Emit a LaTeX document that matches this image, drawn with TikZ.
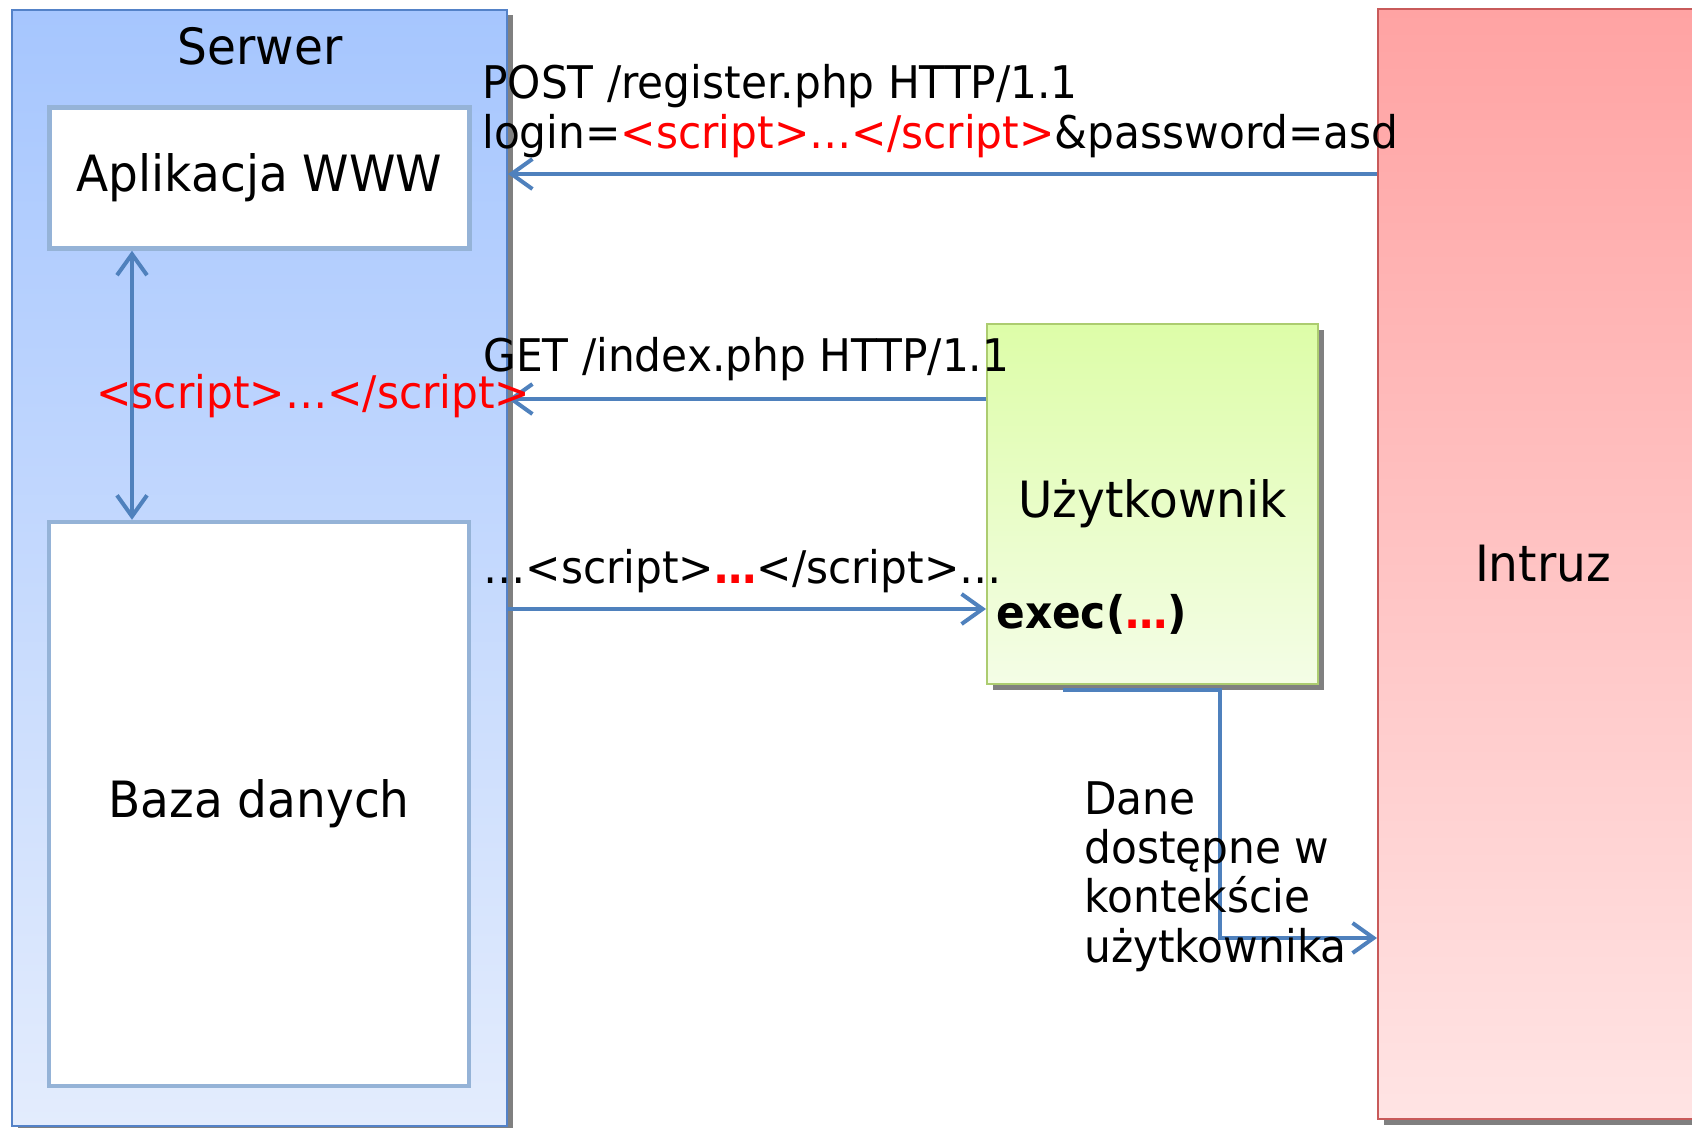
\documentclass[tikz,border=0pt]{standalone}
\usepackage{fontspec}
\setmainfont{DejaVu Sans}[FakeStretch=0.94]
\usepackage{xcolor}
\usepackage{tikz}
\usetikzlibrary{arrows.meta,shadows}

\definecolor{srvtop}{RGB}{166,198,254}
\definecolor{srvbot}{RGB}{227,236,253}
\definecolor{srvline}{RGB}{84,130,200}
\definecolor{boxline}{RGB}{149,179,215}
\definecolor{arrowblue}{RGB}{79,129,189}
\definecolor{usrtop}{RGB}{221,253,168}
\definecolor{usrbot}{RGB}{244,253,230}
\definecolor{usrline}{RGB}{172,204,112}
\definecolor{intop}{RGB}{255,163,163}
\definecolor{inbot}{RGB}{255,228,228}
\definecolor{intruzline}{RGB}{200,90,90}
\definecolor{scriptred}{RGB}{255,0,0}

\begin{document}
\begin{tikzpicture}[
    lbl/.style={font=\fontsize{28.45pt}{34pt}\selectfont, inner sep=0pt},
    msg/.style={font=\fontsize{25.6pt}{27.9pt}\selectfont, inner sep=0pt, anchor=base west, align=left},
    subbox/.style={rectangle, draw=boxline, line width=0.09cm, fill=white, minimum width=8.4cm, font=\fontsize{28.45pt}{34pt}\selectfont},
    actor/.style={rectangle, line width=0.04cm, font=\fontsize{28.45pt}{34pt}\selectfont, drop shadow={shadow xshift=0.11cm, shadow yshift=-0.11cm, opacity=1, fill=black!50}},
    flow/.style={draw=arrowblue, line width=0.08cm, ->},
    >={Straight Barb[length=0.42cm, width=0.6cm]}
]
    \useasboundingbox (0,0) rectangle (33.84,-22.54);

    % Server
    \node[actor, draw=srvline, top color=srvtop, bottom color=srvbot, minimum width=9.9cm, minimum height=22.33cm] (serwer) at (5.19,-11.356) {};
    \node[lbl, anchor=base] (serwertxt) at (5.2,-1.28) {Serwer};
    \node[subbox, minimum height=2.82cm] (app) at (5.19,-3.56) {Aplikacja WWW};
    \node[subbox, minimum height=11.28cm] (baza) at (5.18,-16.08) {Baza danych};

    % User and intruder
    \node[actor, draw=usrline, top color=usrtop, bottom color=usrbot, minimum width=6.62cm, minimum height=7.2cm] (uzyt) at (23.05,-10.08) {Użytkownik};
    \node[actor, draw=intruzline, top color=intop, bottom color=inbot, minimum width=6.6cm, minimum height=22.2cm] (intruz) at (30.86,-11.28) {Intruz};

    % Connector levels
    \coordinate (dblx) at (2.64,0);
    \coordinate (postlvl) at (0,-3.48);
    \coordinate (getlvl) at (0,-7.98);
    \coordinate (resplvl) at (0,-12.18);
    \coordinate (danestart) at (21.26,-13.8);
    \coordinate (daneturn) at (24.4,-18.76);

    % Connectors
    \draw[flow, <->] (app.south -| dblx) -- (baza.north -| dblx);
    \draw[flow] (intruz.west |- postlvl) -- (serwer.east |- postlvl);
    \draw[flow] (uzyt.west |- getlvl) -- (serwer.east |- getlvl);
    \draw[flow] (serwer.east |- resplvl) -- (uzyt.west |- resplvl);
    \draw[flow] (danestart) -| (daneturn) -- (intruz.west |- daneturn);

    % Messages (base = last line)
    \node[msg] (post) at (9.64,-2.96) {POST /register.php HTTP/1.1\\login=\textcolor{scriptred}{<script>…</script>}\&password=asd};
    \node[msg] (get) at (9.66,-7.43) {GET /index.php HTTP/1.1};
    \node[msg] (stored) at (1.92,-8.16) {\textcolor{scriptred}{<script>…</script>}};
    \node[msg] (resp) at (9.66,-11.66) {…<script>\textcolor{scriptred}{\textbf{…}}</script>…};
    \node[msg] (exec) at (19.92,-12.56) {\textbf{exec(\textcolor{scriptred}{…})}};
    \node[msg] (dane) at (21.68,-19.24) {Dane\\dostępne w\\kontekście\\użytkownika};
\end{tikzpicture}
\end{document}
